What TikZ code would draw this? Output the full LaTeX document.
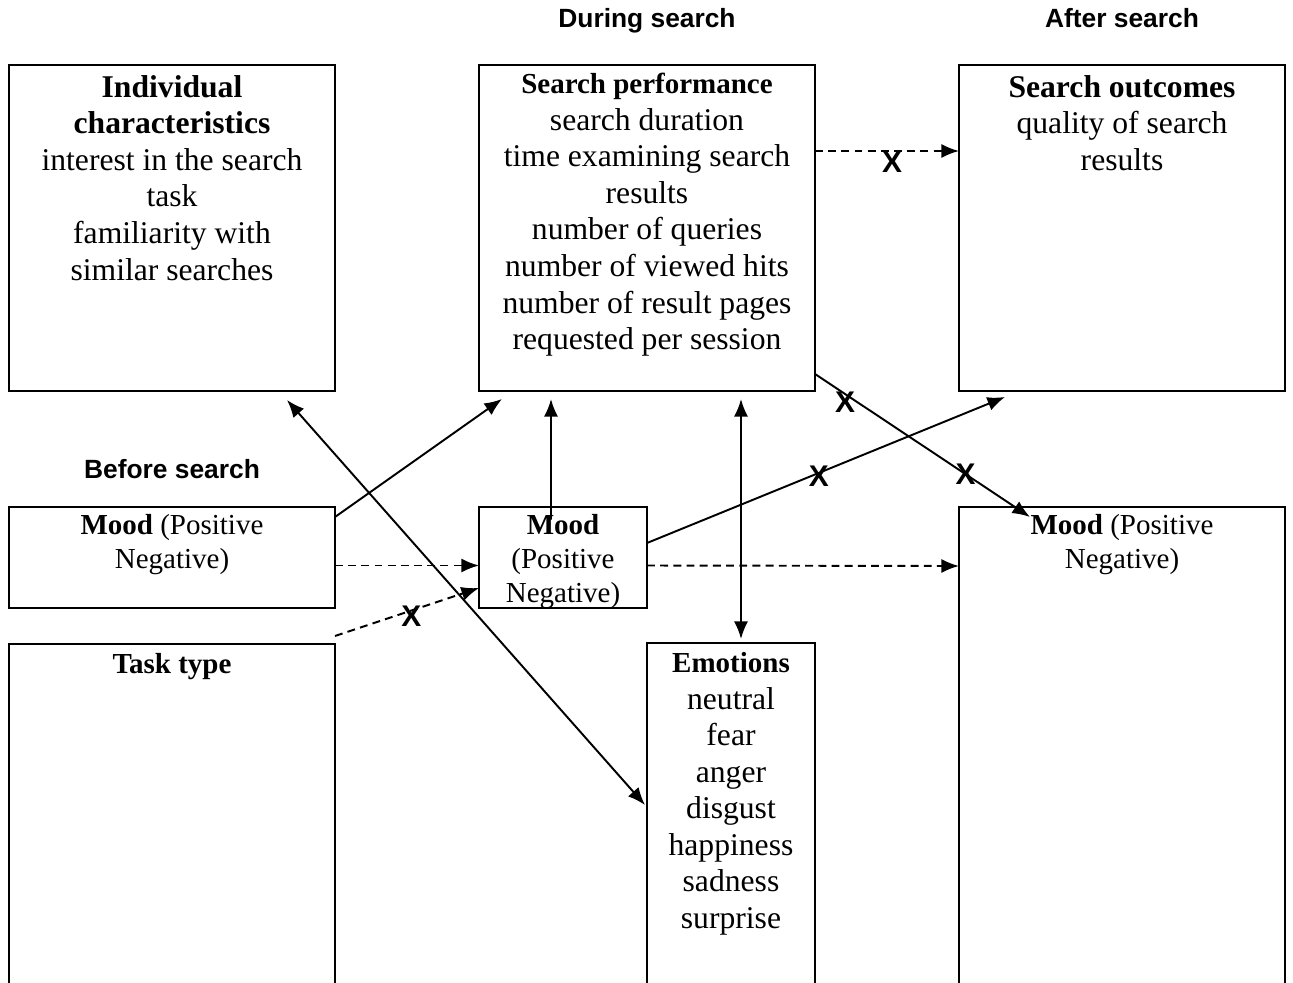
\documentclass[tikz,border=0pt]{standalone}
\usepackage{fontspec}
\setmainfont{Liberation Serif}
\setsansfont{Liberation Sans}
\usepackage{tikz}
\usetikzlibrary{positioning}
\usetikzlibrary{arrows.meta,calc}
\newcommand{\bigfnt}{\fontsize{18}{20.8}\selectfont}
\newcommand{\midfnt}{\fontsize{16.5}{19.3}\selectfont}
\newcommand{\ttlfnt}{\fontsize{16.5}{20.8}\selectfont\bfseries}
\begin{document}
\begin{tikzpicture}[
node distance = 0.5cm,
>={Latex[length=10pt,width=8pt]},
box/.style={rectangle,draw,line width=1.4pt,inner sep=0pt,outer sep=0pt},
txt/.style={text badly centered,text width=#1,inner sep=0pt,font=\bigfnt},
txt/.default=6.4cm,
phase/.style={font=\sffamily\bfseries\fontsize{15}{18}\selectfont,inner sep=0pt,text depth=3pt},
cross/.style={font=\sffamily\bfseries\fontsize{17}{17}\selectfont,inner sep=0pt},
link/.style={->,line width=1.1pt},
dlink/.style={link,dash pattern=on 4.5pt off 3pt}]
\path[use as bounding box,clip] (0,0) rectangle (25.86,-19.66);
\node [box,minimum width=6.52cm,minimum height=6.52cm,anchor=north west] (ind) at (0.18,-1.30) {};
\node [box,minimum width=6.72cm,minimum height=6.52cm,right=2.88cm of ind] (perf) {};
\node [box,minimum width=6.52cm,minimum height=6.52cm,right=2.88cm of perf] (outc) {};
\node [box,minimum width=6.52cm,minimum height=2.02cm,below=2.32cm of ind] (moodB) {};
\node [box,minimum width=6.52cm,minimum height=7.4cm,below=0.72cm of moodB] (task) {};
\node [box,minimum width=3.36cm,minimum height=2.02cm,below=2.32cm of perf.south west,anchor=north west] (moodD) {};
\node [box,minimum width=3.36cm,minimum height=7.4cm,below=0.70cm of moodD.south east,anchor=north west] (emo) {};
\node [box,minimum width=6.52cm,minimum height=10.1cm,below=2.32cm of outc] (moodA) {};
\node [phase,above=0.64cm of perf] (during) {During search};
\node [phase,above=0.64cm of outc] (after) {After search};
\node [phase,above=0.45cm of moodB] (before) {Before search};
\node [txt,below=0.2cm of ind.north] (ind-t) {\textbf{Individual}\\ \textbf{characteristics}\\ interest in the search\\ task\\ familiarity with\\ similar searches};
\node [txt,below=0.16cm of perf.north] (perf-t) {{\ttlfnt Search performance}\\ search duration\\ time examining search\\ results\\ number of queries\\ number of viewed hits\\ number of result pages\\ requested per session};
\node [txt,below=0.2cm of outc.north] (outc-t) {\textbf{Search outcomes}\\ quality of search\\ results};
\node [txt,font=\midfnt,below=0.14cm of moodB.north] (moodB-t) {\textbf{Mood} (Positive\\ Negative)};
\node [txt=3.2cm,font=\midfnt,below=0.14cm of moodD.north] (moodD-t) {\textbf{Mood}\\ (Positive\\ Negative)};
\node [txt,font=\midfnt,below=0.14cm of moodA.north] (moodA-t) {\textbf{Mood} (Positive\\ Negative)};
\node [txt,font=\midfnt,below=0.18cm of task.north] (task-t) {\textbf{Task type}};
\node [txt=3.2cm,below=0.18cm of emo.north] (emo-t) {{\ttlfnt Emotions}\\ neutral\\ fear\\ anger\\ disgust\\ happiness\\ sadness\\ surprise};
\draw [link] ([yshift=-0.2cm]moodB.north east) -- ([shift={(0.46,-0.16)}]perf.south west);
\draw [dlink] ([yshift=-0.16cm]moodB.east) -- ([yshift=-0.16cm]moodD.west);
\draw [dlink] ([yshift=0.16cm]task.north east) -- node[cross,pos=0.53,yshift=-0.12cm] (x1) {X} ([yshift=0.4cm]moodD.south west);
\draw [link] ([shift={(-0.24,-0.25)}]moodD.north) -- ([shift={(1.44,-0.16)}]perf.south west);
\draw [link,<->] ([shift={(1.88,-0.16)}]perf.south) -- ([shift={(0.2,0.08)}]emo.north);
\draw [link,<->] ([shift={(-0.96,-0.18)}]ind.south east) -- ([shift={(-0.04,-3.24)}]emo.north west);
\draw [link] ([yshift=-0.72cm]moodD.north east) -- node[cross,pos=0.48,yshift=-0.06cm] (x2) {X} ([shift={(0.92,-0.12)}]outc.south west);
\draw [dlink] ([yshift=-0.16cm]moodD.east) -- ([yshift=-1.18cm]moodA.north west);
\draw [link] ([yshift=0.34cm]perf.south east) -- node[cross,pos=0.14,yshift=-0.16cm] (x3) {X} node[cross,pos=0.7] (x4) {X} ([shift={(1.42,-0.2)}]moodA.north west);
\draw [dlink] ([yshift=-1.72cm]perf.north east) -- node[cross,pos=0.535,yshift=-0.22cm] (x5) {X} ([yshift=-1.72cm]outc.north west);
\end{tikzpicture}
\end{document}
